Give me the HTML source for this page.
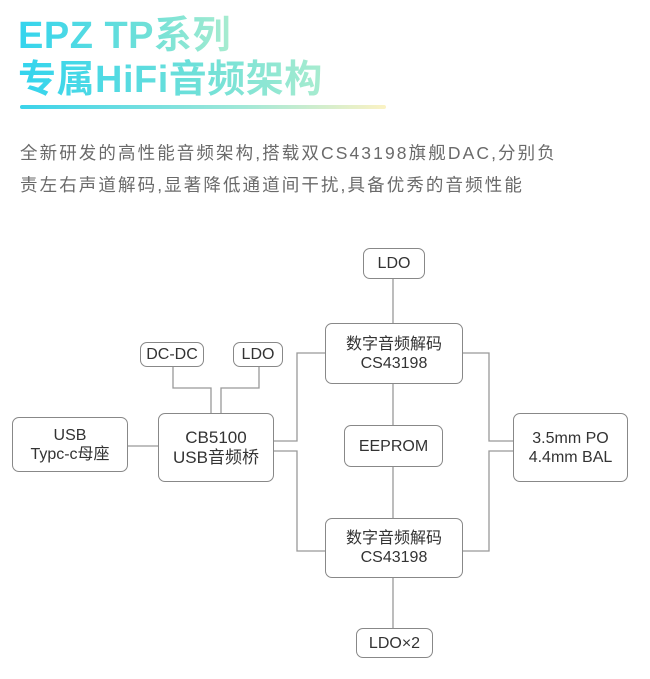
<!DOCTYPE html>
<html><head><meta charset="utf-8"><style>
body{margin:0;width:650px;height:679px;background:#fff;overflow:hidden;position:relative;font-family:"Liberation Sans","Noto Sans CJK SC",sans-serif}
.t{position:absolute;left:18px;font-weight:bold;font-size:38px;line-height:42px;letter-spacing:0.5px;white-space:nowrap;background:linear-gradient(90deg,#33d4ee,#6fe0d8 60%,#a8eccf);-webkit-background-clip:text;background-clip:text;color:transparent}
.p{position:absolute;left:20px;font-size:17.5px;color:#6a6a6a;white-space:nowrap;letter-spacing:2.1px}
.b{position:absolute;border:1.3px solid #888;border-radius:7px;box-sizing:border-box;display:flex;align-items:center;justify-content:center;text-align:center;font-size:16px;line-height:19px;color:#333;background:#fff}
</style></head><body>
<div class="t" style="top:15px">EPZ TP系列</div>
<div class="t" style="top:59px">专属HiFi音频架构</div>
<div style="position:absolute;left:20px;top:105px;width:366px;height:4px;border-radius:2px;background:linear-gradient(90deg,#3ad3ea,#9fe8d8 60%,#fbf2c4)"></div>
<div class="p" style="top:140px">全新研发的高性能音频架构,搭载双CS43198旗舰DAC,分别负</div>
<div class="p" style="top:172px">责左右声道解码,显著降低通道间干扰,具备优秀的音频性能</div>
<svg style="position:absolute;left:0;top:0" width="650" height="679">
<g stroke="#999" stroke-width="1.3" fill="none">
<path d="M128 446H158"/>
<path d="M173 367V388H211V413M259 367V388H221V413"/>
<path d="M274 441H297V353H325M274 451H297V551H325"/>
<path d="M463 353H489V441H513M463 551H489V451H513"/>
<path d="M393 279V323M393 384V425M393 467V518M393 578V628"/>
</g></svg>
<div class="b" style="left:12px;top:417px;width:116px;height:55px">USB<br>Typc-c母座</div>
<div class="b" style="left:140px;top:342px;width:64px;height:25px">DC-DC</div>
<div class="b" style="left:233px;top:342px;width:50px;height:25px">LDO</div>
<div class="b" style="left:158px;top:413px;width:116px;height:69px;font-size:17px;line-height:20px">CB5100<br>USB音频桥</div>
<div class="b" style="left:363px;top:248px;width:62px;height:31px">LDO</div>
<div class="b" style="left:325px;top:323px;width:138px;height:61px">数字音频解码<br>CS43198</div>
<div class="b" style="left:344px;top:425px;width:99px;height:42px">EEPROM</div>
<div class="b" style="left:325px;top:518px;width:138px;height:60px">数字音频解码<br>CS43198</div>
<div class="b" style="left:356px;top:628px;width:77px;height:30px">LDO×2</div>
<div class="b" style="left:513px;top:413px;width:115px;height:69px">3.5mm PO<br>4.4mm BAL</div>
</body></html>
